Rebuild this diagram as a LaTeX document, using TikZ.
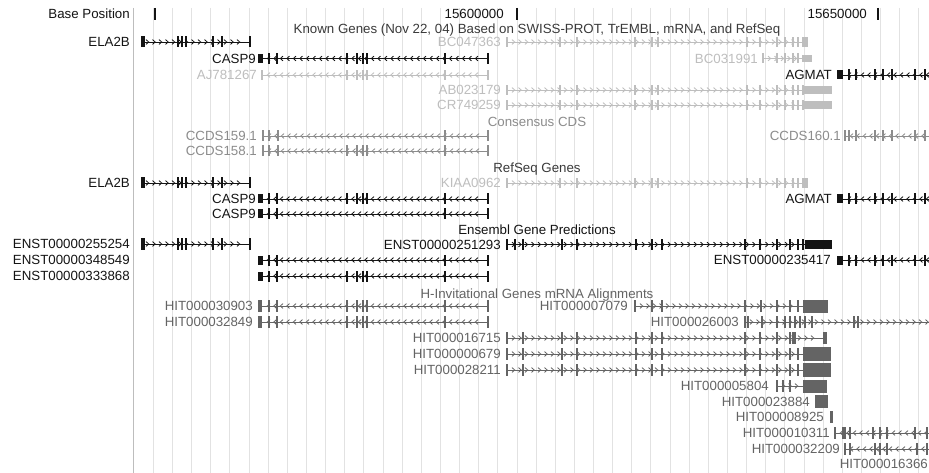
\documentclass[tikz,border=0pt]{standalone}
\usepackage{fontspec}
\setmainfont{Liberation Sans}
\usetikzlibrary{calc}

\definecolor{gridgray}{HTML}{E2E2E2}
\definecolor{edgegray}{HTML}{BDBDBD}
\definecolor{kgblack}{HTML}{141414}
\definecolor{kglight}{HTML}{BEBEBE}
\definecolor{ccdsgray}{HTML}{8C8C8C}
\definecolor{hitgray}{HTML}{646464}
\definecolor{titlegray}{HTML}{3A3A3A}

% colour, y, from, to, direction (1 right, -1 left), half height, exon ticks
\newcommand{\trackgene}[7]{%
  \draw[#1,line width=0.8pt] (#3,#2) -- (#4,#2);
  \pgfmathtruncatemacro\nchev{(#4-#3)/6.5-1}
  \foreach \k in {1,...,\nchev}
    \draw[#1,line width=0.8pt] ({#3+\k*6.5-1.5*(#5)},{#2-2.4}) -- ({#3+\k*6.5+1.2*(#5)},#2) -- ({#3+\k*6.5-1.5*(#5)},{#2+2.4});
  \foreach \ex in {#7}
    \fill[#1] ({\ex-1},{#2-#6}) rectangle ({\ex+1},{#2+#6});
}
% colour, y, half height, from, to
\newcommand{\trackblock}[5]{%
  \fill[#1] (#4,{#2-#3}) rectangle (#5,{#2+#3});
}

\begin{document}
\begin{tikzpicture}[x=1pt,y=-1pt,
    every node/.style={inner sep=0pt,font=\fontsize{13.3}{15}\selectfont},
    lbl/.style={anchor=base east},
    ttl/.style={anchor=base}]
            \path[use as bounding box] (0,0) rectangle (929,473);
            \clip (0,0) rectangle (929,473);
            \fill[white] (0,0) rectangle (929,473);

            % grid
            \foreach \g in {0,...,40}
              \draw[gridgray,line width=0.9pt] ({153.3+\g*19.14},8) -- ({153.3+\g*19.14},473);
            \draw[edgegray,line width=1.2pt] (133.5,8) -- (133.5,473);

            % ruler
            \node[lbl,kgblack] (basepos) at (130,18.8){Base Position};
            \node[lbl,kgblack] (pos600) at (504,18.8){15600000};
            \node[lbl,kgblack] (pos650) at (867,18.8){15650000};
            \draw[kgblack,line width=2pt] (155,8) -- (155,20);
            \draw[kgblack,line width=2pt] (517,8) -- (517,20);
            \draw[kgblack,line width=2pt] (878,8) -- (878,20);

            % known genes
            \node[ttl,titlegray] (kgtitle) at (537,33.8){Known Genes (Nov 22, 04) Based on SWISS-PROT, TrEMBL, mRNA, and RefSeq};
            \trackgene{kgblack}{42}{141}{250}{1}{5.5}{178,182,186,213,222,250};
            \trackblock{kgblack}{42}{5.5}{141}{144.5};
            \trackgene{kglight}{42}{507}{805}{1}{5}{507,560,577,635,652,658,747,760,777,785,793,798};
            \trackblock{kglight}{42}{5}{802}{808};
            \trackgene{kgblack}{58.5}{262}{488}{-1}{5.5}{269,277,347,357,363,367,445,488};
            \trackblock{kgblack}{58.5}{4.5}{258}{263};
            \trackgene{kglight}{58.5}{763}{803}{1}{5}{763,777,785,793,798};
            \trackblock{kglight}{58.5}{3.5}{802}{812};
            \trackgene{kglight}{75}{262}{488}{-1}{5}{262,347,357,363,367,445,488};
            \trackgene{kgblack}{75}{843}{935}{-1}{5.5}{849,856,875,883,892,915,925};
            \trackblock{kgblack}{75}{4.5}{837}{843};
            \trackgene{kglight}{90}{507}{805}{1}{5}{507,560,577,635,652,658,747,760,777,785,793,798,803};
            \trackblock{kglight}{90}{4.2}{803}{832};
            \trackgene{kglight}{105}{507}{805}{1}{5}{507,560,577,635,652,658,747,760,777,785,793,798,803};
            \trackblock{kglight}{105}{4.2}{803}{832};
            \node[lbl,kgblack] (ela2bKg) at (130,46.8){ELA2B};
            \node[lbl,kglight] (bc047363) at (501,46.8){BC047363};
            \node[lbl,kgblack] (casp9Kg) at (256,63.3){CASP9};
            \node[lbl,kglight] (bc031991) at (758,63.3){BC031991};
            \node[lbl,kglight] (aj781267) at (257,79.8){AJ781267};
            \node[lbl,kgblack] (agmatKg) at (832,79.8){AGMAT};
            \node[lbl,kglight] (ab023179) at (501,94.8){AB023179};
            \node[lbl,kglight] (cr749259) at (501,109.8){CR749259};

            % consensus cds
            \node[ttl,ccdsgray] (ccdstitle) at (537,126.8){Consensus CDS};
            \trackgene{ccdsgray}{136}{263}{488}{-1}{5.5}{263,269,278,445,488};
            \trackgene{ccdsgray}{136}{845}{935}{-1}{5.5}{845,849,856,875,883,892,915,925};
            \trackgene{ccdsgray}{151}{263}{488}{-1}{5.5}{263,269,278,347,357,363,367,445,488};
            \node[lbl,ccdsgray] (ccds159) at (257,140.8){CCDS159.1};
            \node[lbl,ccdsgray] (ccds160) at (841,140.8){CCDS160.1};
            \node[lbl,ccdsgray] (ccds158) at (257,155.8){CCDS158.1};

            % refseq genes
            \node[ttl,titlegray] (rstitle) at (537,172.8){RefSeq Genes};
            \trackgene{kgblack}{183}{141}{250}{1}{5.5}{178,182,186,213,222,250};
            \trackblock{kgblack}{183}{5.5}{141}{144.5};
            \trackgene{kglight}{183}{507}{805}{1}{5}{507,560,577,635,652,658,747,760,777,785,793,798};
            \trackblock{kglight}{183}{5}{802}{808};
            \trackgene{kgblack}{199}{262}{488}{-1}{5.5}{269,277,347,357,363,367,445,488};
            \trackblock{kgblack}{199}{4.5}{258}{263};
            \trackgene{kgblack}{199}{843}{935}{-1}{5.5}{849,856,875,883,892,915,925};
            \trackblock{kgblack}{199}{4.5}{837}{843};
            \trackgene{kgblack}{214}{262}{488}{-1}{5.5}{269,277,445,488};
            \trackblock{kgblack}{214}{4.5}{258}{263};
            \node[lbl,kgblack] (ela2bRs) at (130,187.8){ELA2B};
            \node[lbl,kglight] (kiaa0962) at (501,187.8){KIAA0962};
            \node[lbl,kgblack] (casp9RsA) at (256,203.8){CASP9};
            \node[lbl,kgblack] (agmatRs) at (832,203.8){AGMAT};
            \node[lbl,kgblack] (casp9RsB) at (256,218.8){CASP9};

            % ensembl
            \node[ttl,kgblack] (enstitle) at (537,234.8){Ensembl Gene Predictions};
            \trackgene{kgblack}{244}{141}{250}{1}{5.5}{178,182,186,213,222,250};
            \trackblock{kgblack}{244}{5.5}{141}{144.5};
            \trackgene{kgblack}{244.5}{507}{805}{1}{5}{507,515,523,562,577,636,652,662,745,760,777,790,798,803};
            \trackblock{kgblack}{244.5}{4.5}{805}{832};
            \trackgene{kgblack}{260}{262}{488}{-1}{5.5}{269,277,445,488};
            \trackblock{kgblack}{260}{4.5}{258}{263};
            \trackgene{kgblack}{260}{843}{935}{-1}{5.5}{849,856,875,883,892,915,925};
            \trackblock{kgblack}{260}{4.5}{837}{843};
            \trackgene{kgblack}{276}{262}{488}{-1}{5.5}{269,277,347,357,363,367,445,488};
            \trackblock{kgblack}{276}{4.5}{258}{263};
            \node[lbl,kgblack] (enst255254) at (130,248.8){ENST00000255254};
            \node[lbl,kgblack] (enst251293) at (501,249.3){ENST00000251293};
            \node[lbl,kgblack] (enst348549) at (130,264.8){ENST00000348549};
            \node[lbl,kgblack] (enst235417) at (831,264.8){ENST00000235417};
            \node[lbl,kgblack] (enst333868) at (130,280.8){ENST00000333868};

            % h-invitational
            \node[ttl,hitgray] (hittitle) at (537,298.3){H-Invitational Genes mRNA Alignments};
            \trackgene{hitgray}{306}{262}{488}{-1}{6}{269,277,347,357,363,367,445,488};
            \trackblock{hitgray}{306}{6}{258}{262};
            \trackgene{hitgray}{306}{635}{803}{1}{6}{635,652,662,745,761,777,790,798};
            \trackblock{hitgray}{306}{6.5}{803}{828};
            \trackgene{hitgray}{322}{262}{488}{-1}{6}{269,277,347,357,363,367,445,488};
            \trackblock{hitgray}{322}{6}{258}{262};
            \trackgene{hitgray}{322}{745}{935}{1}{6}{745,748,762,777,785,790,795,800,805,812,854,858};
            \trackgene{hitgray}{338}{507}{825}{1}{6}{507,523,562,577,636,652,662,745,760,777,790};
            \trackblock{hitgray}{338}{6}{792}{796};
            \trackblock{hitgray}{338}{6}{823}{827};
            \trackgene{hitgray}{354}{507}{803}{1}{6}{507,523,562,577,636,652,662,745,760,777,790,798};
            \trackblock{hitgray}{354}{7}{803}{831};
            \trackgene{hitgray}{370}{507}{803}{1}{6}{507,523,562,577,636,652,662,745,760,777,790,798};
            \trackblock{hitgray}{370}{7}{803}{831};
            \trackgene{hitgray}{386}{777}{803}{1}{6}{777,783,790};
            \trackblock{hitgray}{386}{6.5}{803}{827};
            \trackblock{hitgray}{401.5}{6.5}{815}{828};
            \trackblock{hitgray}{417}{6}{830}{833};
            \trackgene{hitgray}{433}{835}{935}{-1}{6}{835,850,873,880,887,915,927};
            \trackblock{hitgray}{433}{6}{842}{846};
            \trackgene{hitgray}{449}{845}{935}{-1}{6}{845,850,875,880,887,917,927};
            \node[lbl,hitgray] (hit030903) at (253,310.8){HIT000030903};
            \node[lbl,hitgray] (hit007079) at (628,310.8){HIT000007079};
            \node[lbl,hitgray] (hit032849) at (253,326.8){HIT000032849};
            \node[lbl,hitgray] (hit026003) at (739,326.8){HIT000026003};
            \node[lbl,hitgray] (hit016715) at (501,342.8){HIT000016715};
            \node[lbl,hitgray] (hit000679) at (501,358.8){HIT000000679};
            \node[lbl,hitgray] (hit028211) at (501,374.8){HIT000028211};
            \node[lbl,hitgray] (hit005804) at (769,390.8){HIT000005804};
            \node[lbl,hitgray] (hit023884) at (810,406.3){HIT000023884};
            \node[lbl,hitgray] (hit008925) at (824,421.8){HIT000008925};
            \node[lbl,hitgray] (hit010311) at (830,437.8){HIT000010311};
            \node[lbl,hitgray] (hit032209) at (840,453.8){HIT000032209};
            \node[lbl,hitgray] (hit016366) at (928,468.3){HIT000016366};
\end{tikzpicture}
\end{document}
